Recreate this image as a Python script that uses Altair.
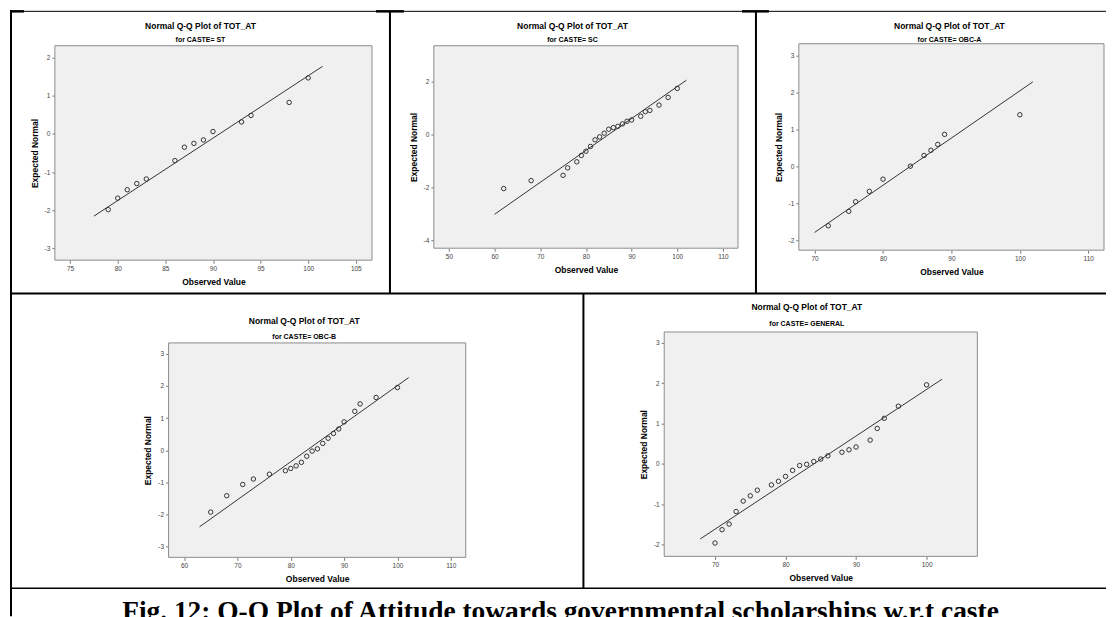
import altair as alt
import pandas as pd

# ---------------- data ----------------
TITLE = "Normal Q-Q Plot of TOT_AT"
CAPTION = "Fig. 12: Q-Q Plot of Attitude towards governmental scholarships w.r.t caste"
castes = ["ST", "SC", "OBC-A", "OBC-B", "GENERAL"]

st_obs = [79, 80, 81, 82, 83, 86, 87, 88, 89, 90, 93, 94, 98, 100]
st_exp = [-1.98, -1.68, -1.46, -1.30, -1.18, -0.70, -0.35, -0.25, -0.16, 0.06, 0.31, 0.48, 0.82, 1.46]
st_line_x = [77.5, 101.5]
st_line_y = [-2.15, 1.76]

sc_obs = [62, 68, 75, 76, 78, 79, 80, 81, 82, 83, 84, 85, 86, 87, 88, 89, 90, 92, 93, 94, 96, 98, 100]
sc_exp = [-2.04, -1.74, -1.54, -1.26, -1.03, -0.79, -0.63, -0.45, -0.20, -0.09, 0.05, 0.20, 0.26,
          0.31, 0.40, 0.50, 0.55, 0.69, 0.86, 0.91, 1.11, 1.40, 1.74]
sc_line_x = [60, 102]
sc_line_y = [-3.01, 2.05]

obca_obs = [72, 75, 76, 78, 80, 84, 86, 87, 88, 89, 100]
obca_exp = [-1.61, -1.22, -0.96, -0.68, -0.35, 0.00, 0.29, 0.43, 0.59, 0.86, 1.39]
obca_line_x = [70, 101.9]
obca_line_y = [-1.79, 2.28]

obcb_obs = [65, 68, 71, 73, 76, 79, 80, 81, 82, 83, 84, 85, 86, 87, 88, 89, 90, 92, 93, 96, 100]
obcb_exp = [-1.93, -1.42, -1.07, -0.90, -0.75, -0.64, -0.57, -0.49, -0.38, -0.19, -0.03, 0.04, 0.21,
            0.37, 0.52, 0.66, 0.88, 1.21, 1.44, 1.64, 1.95]
obcb_line_x = [62.9, 102.1]
obcb_line_y = [-2.39, 2.26]

gen_obs = [70, 71, 72, 73, 74, 75, 76, 78, 79, 80, 81, 82, 83, 84, 85, 86, 88, 89, 90, 92, 93, 94, 96, 100]
gen_exp = [-1.96, -1.63, -1.49, -1.18, -0.92, -0.79, -0.65, -0.52, -0.43, -0.31, -0.16, -0.04, -0.01,
           0.06, 0.12, 0.20, 0.29, 0.35, 0.42, 0.59, 0.88, 1.13, 1.43, 1.96]
gen_line_x = [67.9, 102.2]
gen_line_y = [-1.86, 2.10]

# axis domains and tick values
st_xdom, st_ydom = [73.4, 106.7], [-3.3, 2.3]
sc_xdom, sc_ydom = [46.7, 113.3], [-4.29, 3.35]
obca_xdom, obca_ydom = [67.7, 112.3], [-2.27, 3.31]
obcb_xdom, obcb_ydom = [57.1, 112.8], [-3.34, 3.34]
gen_xdom, gen_ydom = [62.8, 107.2], [-2.29, 3.27]

st_xticks = [75, 80, 85, 90, 95, 100, 105]
st_yticks = [-3, -2, -1, 0, 1, 2]
sc_xticks = [50, 60, 70, 80, 90, 100, 110]
sc_yticks = [-4, -2, 0, 2]
obca_xticks = [70, 80, 90, 100, 110]
obca_yticks = [-2, -1, 0, 1, 2, 3]
obcb_xticks = [60, 70, 80, 90, 100, 110]
obcb_yticks = [-3, -2, -1, 0, 1, 2, 3]
gen_xticks = [70, 80, 90, 100]
gen_yticks = [-2, -1, 0, 1, 2, 3]

# ---------------- layout (page pixels) ----------------
W, H = 1099, 609
M = 8  # page margin
# plot boxes: left, right, top, bottom
BOXES = [(53, 371, 45, 260), (433, 738, 45, 248), (799, 1105, 43, 250),
         (167, 465, 343, 558), (664, 978, 332, 557)]
# title centre x, title centre y, subtitle centre y
TITLES = [(199, 25, 39), (572, 25, 39), (950, 25, 39), (303, 321, 337), (807, 307, 324)]
# document table frame: x1, y1, x2, y2, width
FRAME = [
    (9, 10, 9, 617, 2),
    (8, 10.5, 1107, 10.5, 1),
    (8, 10.5, 22, 10.5, 2.5),
    (375, 10.5, 403, 10.5, 2.5),
    (742, 10.5, 769, 10.5, 2.5),
    (389, 10, 389, 293, 2),
    (756, 10, 756, 293, 2),
    (8, 293.5, 1107, 293.5, 2),
    (583, 293, 583, 589, 2),
    (8, 589, 1107, 589, 1.5),
]
CAPTION_POS = (560, 621)

LABEL_EXPR = "datum.value < 0 ? '-' + abs(datum.value) : '' + datum.value"
dummy = pd.DataFrame({"k": [0]})
FONT = "Liberation Sans"


def panel(obs, exp, lx, ly, xdom, ydom, xticks, yticks, box, ttl, caste):
    x0, x1, y0, y1 = [v - M for v in box]
    df = pd.DataFrame({"obs": obs, "exp": exp})
    dl = pd.DataFrame({"obs": lx, "exp": ly})
    x = alt.X("obs:Q",
              scale=alt.Scale(domain=xdom, range=[x0, x1], nice=False, zero=False),
              axis=alt.Axis(values=xticks, title="Observed Value", orient="bottom",
                            offset=y1 - H, labelExpr=LABEL_EXPR))
    y = alt.Y("exp:Q",
              scale=alt.Scale(domain=ydom, range=[y1, y0], nice=False, zero=False),
              axis=alt.Axis(values=yticks, title="Expected Normal", orient="left",
                            offset=-x0, labelExpr=LABEL_EXPR))
    bg = alt.Chart(dummy).mark_rect(fill="#f0f0f0", stroke="#8c8c8c", strokeWidth=1).encode(
        x=alt.value(x0), x2=alt.value(x1), y=alt.value(y0), y2=alt.value(y1))
    line = alt.Chart(dl).mark_line(color="#333333", strokeWidth=1).encode(x=x, y=y)
    pts = alt.Chart(df).mark_point(shape="circle", filled=False, size=20, color="#333333",
                                   strokeWidth=1, opacity=1).encode(x=x, y=y)
    tx, ty, sy = ttl
    t1 = alt.Chart(dummy).mark_text(text=TITLE, font=FONT, fontSize=8.5, fontWeight="bold",
                                    align="center", baseline="middle", color="black").encode(
        x=alt.value(tx - M), y=alt.value(ty - M))
    t2 = alt.Chart(dummy).mark_text(text=f"for CASTE= {caste}", font=FONT, fontSize=7,
                                    fontWeight="bold", align="center", baseline="middle",
                                    color="black").encode(
        x=alt.value(tx - M), y=alt.value(sy - M))
    return alt.layer(bg, line, pts, t1, t2)


p1 = panel(st_obs, st_exp, st_line_x, st_line_y, st_xdom, st_ydom, st_xticks, st_yticks,
           BOXES[0], TITLES[0], castes[0])
p2 = panel(sc_obs, sc_exp, sc_line_x, sc_line_y, sc_xdom, sc_ydom, sc_xticks, sc_yticks,
           BOXES[1], TITLES[1], castes[1])
p3 = panel(obca_obs, obca_exp, obca_line_x, obca_line_y, obca_xdom, obca_ydom, obca_xticks,
           obca_yticks, BOXES[2], TITLES[2], castes[2])
p4 = panel(obcb_obs, obcb_exp, obcb_line_x, obcb_line_y, obcb_xdom, obcb_ydom, obcb_xticks,
           obcb_yticks, BOXES[3], TITLES[3], castes[3])
p5 = panel(gen_obs, gen_exp, gen_line_x, gen_line_y, gen_xdom, gen_ydom, gen_xticks,
           gen_yticks, BOXES[4], TITLES[4], castes[4])

frame_layers = []
for fx1, fy1, fx2, fy2, sw in FRAME:
    frame_layers.append(
        alt.Chart(dummy).mark_rule(color="black", strokeWidth=sw).encode(
            x=alt.value(fx1 - M), x2=alt.value(fx2 - M),
            y=alt.value(fy1 - M), y2=alt.value(fy2 - M))
    )
caption = alt.Chart(dummy).mark_text(
    text=CAPTION, font="Liberation Serif", fontSize=27.5, fontWeight="bold",
    align="center", baseline="alphabetic", color="black"
).encode(x=alt.value(CAPTION_POS[0] - M), y=alt.value(CAPTION_POS[1] - M))

chart = alt.layer(p1, p2, p3, p4, p5, *frame_layers, caption).resolve_scale(
    x="independent", y="independent"
).resolve_axis(x="independent", y="independent").properties(
    width=W, height=H, padding=0, background="white",
).configure_view(
    stroke="transparent", fill="transparent"
).configure_axis(
    labelFont=FONT, labelFontSize=6.5, labelColor="#444444",
    tickColor="#777777", tickSize=3, tickWidth=1, domain=False, grid=False,
    titleFont=FONT, titleFontSize=8.5, titleFontWeight="bold",
    titleColor="black", labelPadding=2,
).configure_axisX(titlePadding=6).configure_axisY(titlePadding=5)

chart.save("out.html", embed_options={"renderer": "svg", "actions": False})
